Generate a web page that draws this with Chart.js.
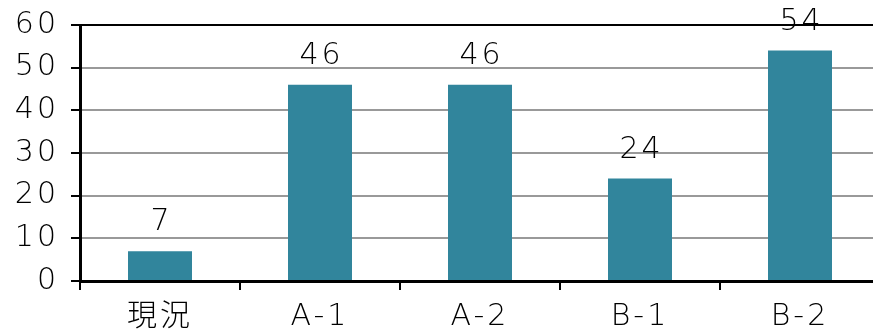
<!DOCTYPE html>
<html>
<head>
<meta charset="utf-8">
<script src="https://cdn.jsdelivr.net/npm/chart.js@4/dist/chart.umd.min.js"></script>
<style>
  html, body { margin: 0; padding: 0; background: #fff; overflow: hidden; }
  #wrap { width: 882px; height: 333px; position: relative; }
</style>
</head>
<body>
<div id="wrap"><canvas id="c"></canvas></div>
<script>
const categories = ['現況', 'A-1', 'A-2', 'B-1', 'B-2'];
const values = [7, 46, 46, 24, 54];
const yMin = 0, yMax = 60, yStep = 10;

const FONT = '"DejaVu Sans", "Noto Sans CJK JP", sans-serif';
const WEIGHT = '200';
const BAR = '#31859C';

const spacing = {
  id: 'spacing',
  beforeDraw(chart) { chart.ctx.letterSpacing = '3px'; },
  beforeLayout(chart) { chart.ctx.letterSpacing = '3px'; }
};

const dataLabels = {
  id: 'dataLabels',
  afterDatasetsDraw(chart) {
    const ctx = chart.ctx;
    const meta = chart.getDatasetMeta(0);
    ctx.save();
    ctx.font = WEIGHT + ' 30px ' + FONT;
    ctx.fillStyle = '#000';
    ctx.textAlign = 'center';
    ctx.textBaseline = 'alphabetic';
    meta.data.forEach((bar, i) => {
      ctx.fillText(String(values[i]), bar.x + 1.5, bar.y - 21);
    });
    ctx.restore();
  }
};

new Chart(document.getElementById('c'), {
  type: 'bar',
  data: {
    labels: categories,
    datasets: [{
      data: values,
      backgroundColor: BAR,
      borderWidth: 0,
      barPercentage: 0.4,
      categoryPercentage: 1.0
    }]
  },
  options: {
    responsive: true,
    maintainAspectRatio: false,
    animation: false,
    devicePixelRatio: 1,
    layout: { padding: { top: 25, right: 2, left: 0, bottom: 0 } },
    plugins: { legend: { display: false }, tooltip: { enabled: false } },
    scales: {
      x: {
        afterFit(s) { s.height = 52; s.paddingLeft = 0; s.paddingRight = 0; },
        grid: {
          drawOnChartArea: false,
          tickLength: 9,
          tickColor: '#000',
          lineWidth: 2
        },
        border: { color: '#000', width: 3 },
        ticks: {
          font: { family: FONT, size: 30, weight: WEIGHT },
          color: '#000',
          padding: 9,
          maxRotation: 0
        }
      },
      y: {
        min: yMin,
        max: yMax,
        afterFit(s) { s.width = 80; s.paddingTop = 0; s.paddingBottom = 0; },
        grid: {
          color: (c) => (c.tick && c.tick.value === yMax ? '#000' : '#999'),
          lineWidth: 2,
          tickLength: 9,
          tickColor: '#000'
        },
        border: { color: '#000', width: 3 },
        ticks: {
          stepSize: yStep,
          font: { family: FONT, size: 30, weight: WEIGHT },
          color: '#000',
          padding: 12
        }
      }
    }
  },
  plugins: [spacing, dataLabels]
});
</script>
</body>
</html>
